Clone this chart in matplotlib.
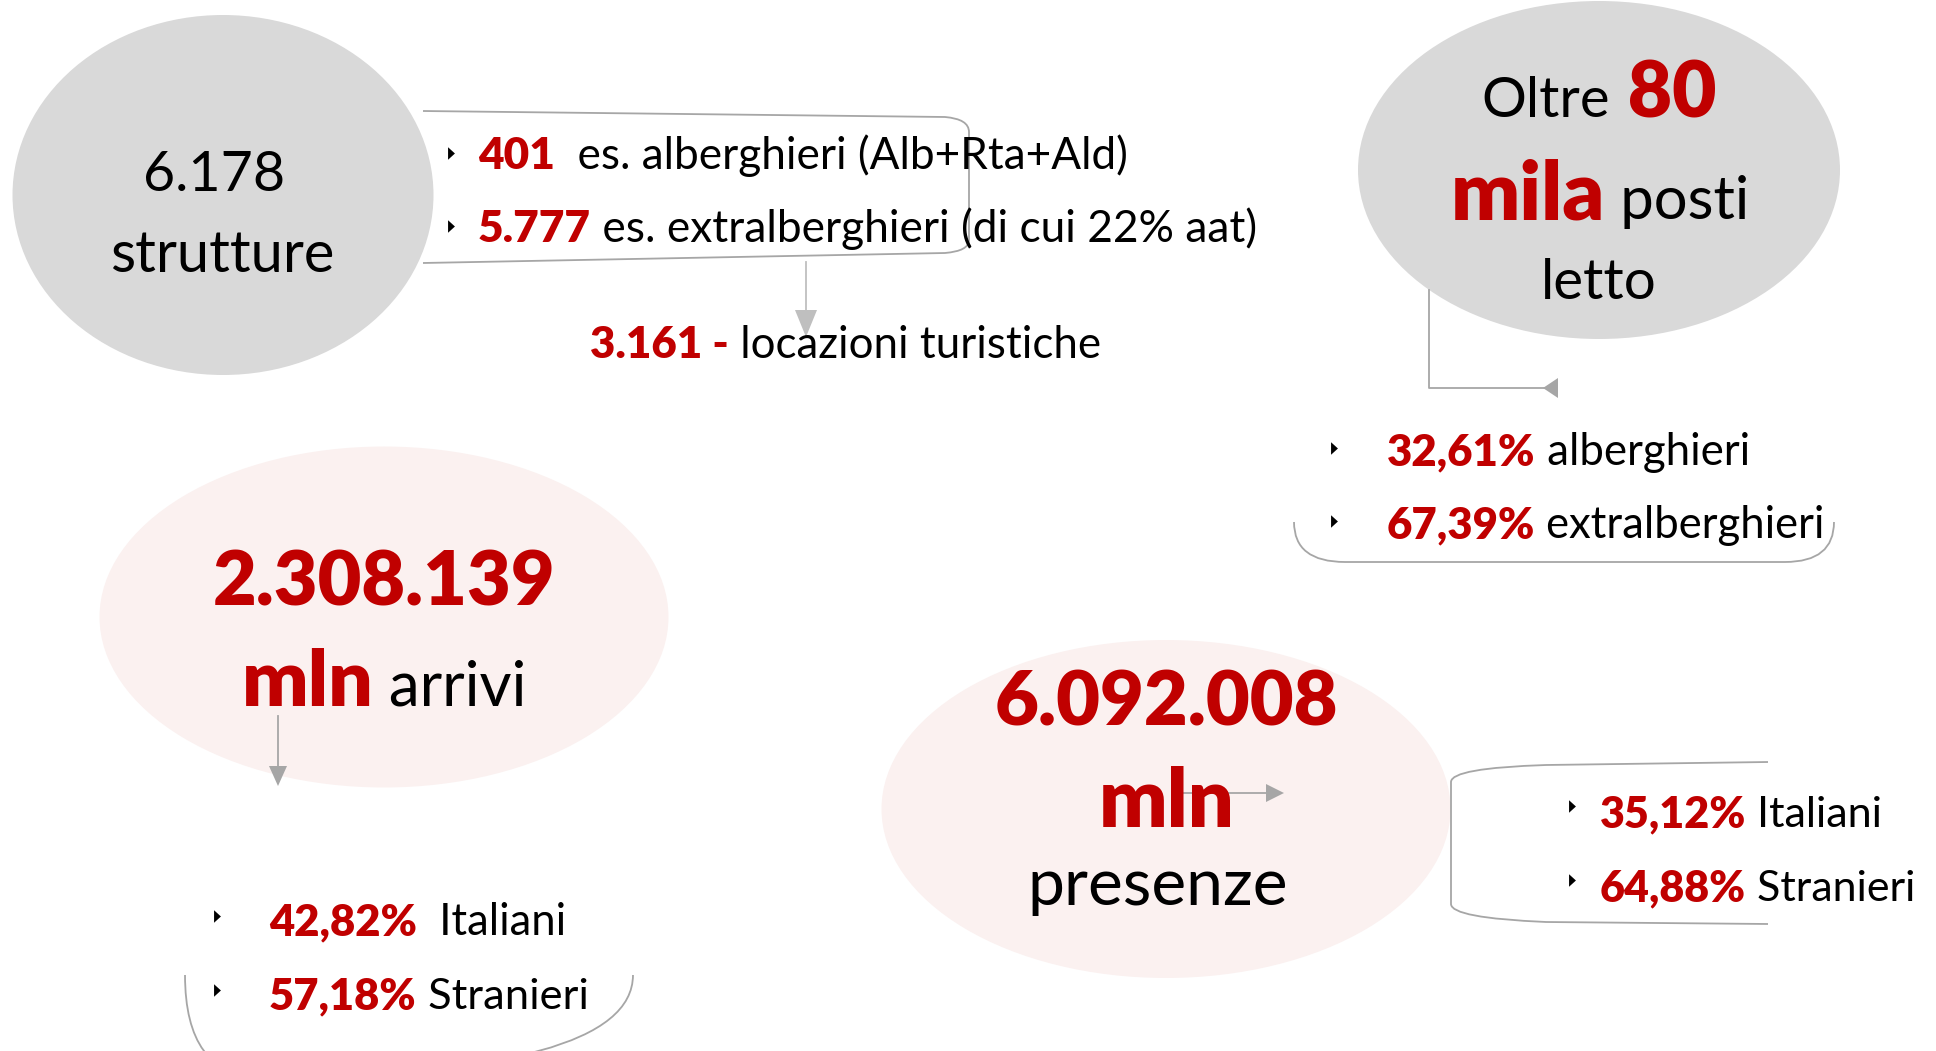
import matplotlib
matplotlib.use('Agg')
import matplotlib.pyplot as plt
from matplotlib.patches import Ellipse, Polygon, PathPatch
from matplotlib.path import Path

# Data read from the infographic
strutture = "6.178"
es_values = ["401", "5.777"]
es_labels = ["  es. alberghieri (Alb+Rta+Ald)", " es. extralberghieri (di cui 22% aat)"]
locazioni = "3.161"
posti_letto = "80"
posti_pct = ["32,61%", "67,39%"]
posti_labels = ["alberghieri", "extralberghieri"]
arrivi = "2.308.139"
arrivi_pct = ["42,82%", "57,18%"]
presenze = "6.092.008"
presenze_pct = ["35,12%", "64,88%"]
provenienza = ["Italiani", "Stranieri"]

RED = '#c00000'
GREY_FILL = '#d9d9d9'
PINK_FILL = '#fbf1f0'
LINE = '#a6a6a6'
BOLD = 'heavy'

plt.rcParams['font.family'] = ['Lato', 'DejaVu Sans']

fig = plt.figure(figsize=(19.36, 10.51), dpi=100)
ax = fig.add_axes([0, 0, 1, 1])
ax.set_xlim(0, 1936)
ax.set_ylim(1051, 0)
ax.axis('off')
renderer = fig.canvas.get_renderer()


def rich(x, y, parts, ha='left', width=None):
    # parts: (text, colour, size, weight) placed one after the other on a baseline;
    # width: target line width in pixels (sizes get scaled to fit it)
    objs = [ax.text(0, y, s, color=c, fontsize=sz, fontweight=w, va='baseline', ha='left')
            for s, c, sz, w in parts]
    widths = [t.get_window_extent(renderer).width for t in objs]
    if width:
        k = width / sum(widths)
        for t in objs:
            t.set_fontsize(t.get_fontsize() * k)
        widths = [t.get_window_extent(renderer).width for t in objs]
    total = sum(widths)
    x0 = x - total / 2 if ha == 'center' else x
    for t, w in zip(objs, widths):
        t.set_x(x0)
        x0 += w


BULLET = [(-0.55, -1), (0.55, 0), (-0.55, 1)]


def bullet(x, y):
    ax.plot([x], [y], marker=BULLET, ms=9, color='black', mew=0)


def arrow_head(tip, direction, length=18, half=9, color=LINE):
    tx, ty = tip
    dx, dy = direction
    bx, by = tx - dx * length, ty - dy * length
    px, py = -dy * half, dx * half
    ax.add_patch(Polygon([(tx, ty), (bx + px, by + py), (bx - px, by - py)],
                         closed=True, fc=color, ec='none', zorder=3))


def curve(verts, codes, lw=1.3):
    ax.add_patch(PathPatch(Path(verts, codes), fc='none', ec=LINE, lw=lw, zorder=2))


M, L, C = Path.MOVETO, Path.LINETO, Path.CURVE3

# ---- ellipses
ax.add_patch(Ellipse((223, 195), 421, 360, fc=GREY_FILL, ec='none', zorder=1))
ax.add_patch(Ellipse((1599, 170), 482, 338, fc=GREY_FILL, ec='none', zorder=1))
ax.add_patch(Ellipse((384, 617), 569, 341, fc=PINK_FILL, ec='none', zorder=1))
ax.add_patch(Ellipse((1166, 809), 569, 338, fc=PINK_FILL, ec='none', zorder=1))

# ---- strutture
rich(214, 191, [(strutture, 'black', 41, 'normal')], ha='center', width=142)
rich(222, 272, [("strutture", 'black', 41, 'normal')], ha='center', width=225)

curve([(423, 111), (945, 117), (969, 119), (969, 132), (969, 240), (969, 251), (945, 253), (423, 263)],
      [M, L, C, C, L, C, C, L])
for v, lab, yb, yc, w in zip(es_values, es_labels, [169, 242], [153, 226], [648, 779]):
    bullet(451, yc)
    rich(478, yb, [(v, RED, 30, BOLD), (lab, 'black', 30, 'normal')], width=w)

ax.plot([806, 806], [262, 312], color='#bfbfbf', lw=1.3)
arrow_head((806, 337), (0, 1), length=27, half=11, color='#bfbfbf')
rich(590, 358, [(locazioni + " -", RED, 31, BOLD), (" locazioni turistiche", 'black', 31, 'normal')],
     width=509)

# ---- posti letto
rich(1599, 117, [("Oltre", 'black', 41, 'normal'), (" " + posti_letto, RED, 56, BOLD)],
     ha='center', width=235)
rich(1600, 219, [("mila", RED, 56, BOLD), (" posti", 'black', 41, 'normal')], ha='center', width=299)
rich(1599, 299, [("letto", 'black', 41, 'normal')], ha='center', width=116)

ax.plot([1429, 1429, 1545], [290, 388, 388], color=LINE, lw=1.3)
ax.add_patch(Polygon([(1543, 388), (1558, 378), (1558, 398)], closed=True, fc=LINE, ec='none'))

for p, lab, yb, yc, w in zip(posti_pct, posti_labels, [465, 538], [448, 521], [363, 438]):
    bullet(1334, yc)
    rich(1387, yb, [(p, RED, 33, BOLD), (" " + lab, 'black', 33, 'normal')], width=w)
curve([(1294, 522), (1294, 562), (1345, 562), (1785, 562), (1834, 562), (1834, 522)],
      [M, C, C, L, C, C])

# ---- arrivi
rich(384, 605, [(arrivi, RED, 57, BOLD)], ha='center', width=343)
rich(384, 706, [("mln", RED, 58, BOLD), (" arrivi", 'black', 46, 'normal')], ha='center', width=286)
ax.plot([278, 278], [716, 768], color=LINE, lw=1.3)
arrow_head((278, 786), (0, 1), length=20, half=9)

for p, lab, yb, yc, w in zip(arrivi_pct, provenienza, [935, 1009], [916, 990], [298, 320]):
    bullet(217, yc)
    gap = "  " if lab == "Italiani" else " "
    rich(269, yb, [(p, RED, 33, BOLD), (gap + lab, 'black', 33, 'normal')], width=w)
curve([(185, 975), (185, 1075), (260, 1078), (560, 1078), (633, 1075), (633, 975)],
      [M, C, C, L, C, C])

# ---- presenze
rich(1166, 726, [(presenze, RED, 57, BOLD)], ha='center', width=344)
rich(1167, 827, [("mln", RED, 58, BOLD)], ha='center', width=136)
rich(1158, 905, [("presenze", 'black', 48, 'normal')], ha='center', width=261)
ax.plot([1183, 1268], [793, 793], color=LINE, lw=1.3)
arrow_head((1284, 793), (1, 0), length=18, half=9)

curve([(1768, 762), (1546, 765), (1451, 768), (1451, 782), (1451, 904), (1451, 918), (1546, 922), (1768, 924)],
      [M, L, C, C, L, C, C, L])
for p, lab, yb, yc, w in zip(presenze_pct, provenienza, [827, 901], [806, 880], [284, 316]):
    bullet(1572, yc)
    rich(1600, yb, [(p, RED, 33, BOLD), (" " + lab, 'black', 33, 'normal')], width=w)

fig.savefig('out.png', dpi=100)
